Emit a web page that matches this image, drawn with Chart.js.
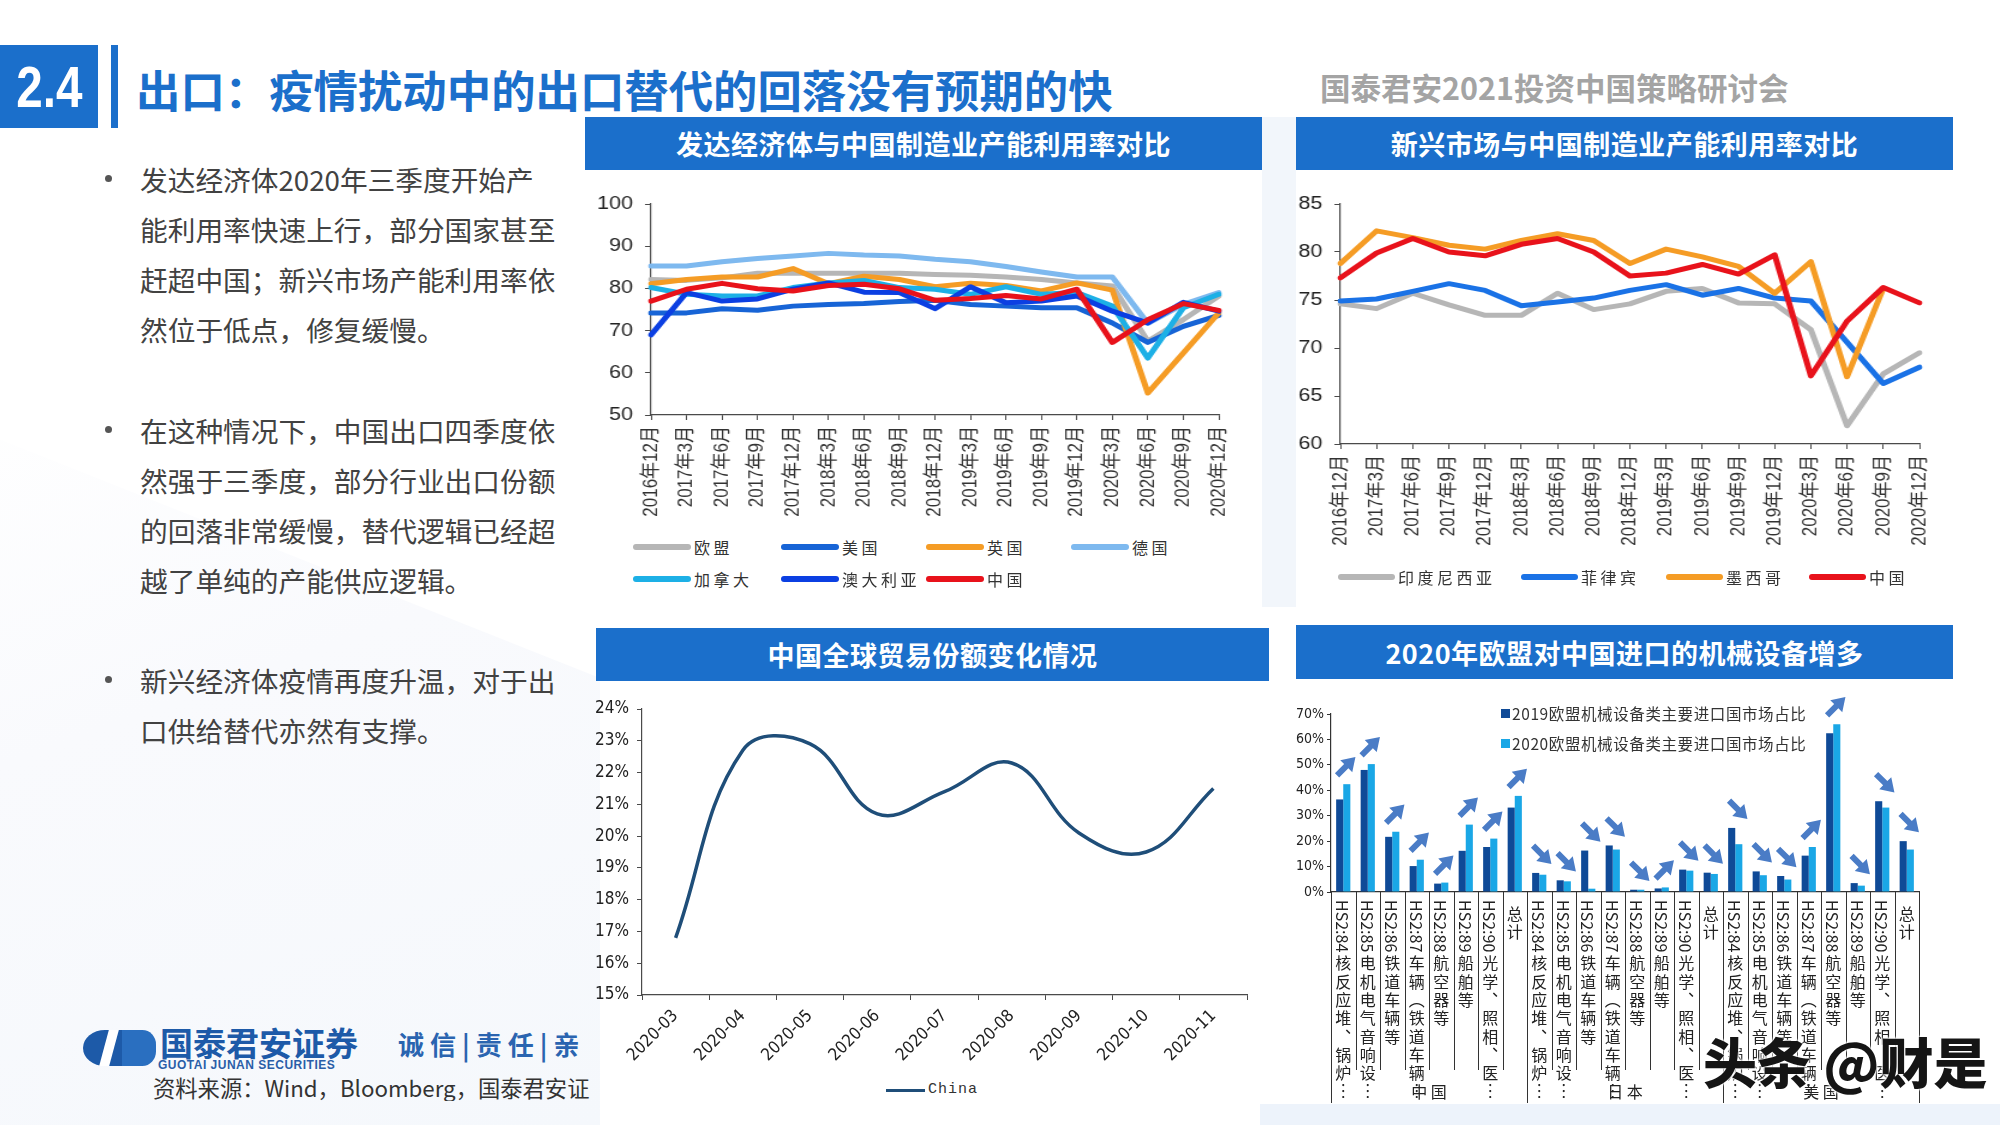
<!DOCTYPE html>
<html lang="zh-CN">
<head>
<meta charset="utf-8">
<title>出口：疫情扰动中的出口替代的回落没有预期的快</title>
<script src="https://cdn.jsdelivr.net/npm/chart.js@4.4.1/dist/chart.umd.min.js"></script>
<style>
html,body{margin:0;padding:0}
body{width:2000px;height:1125px;overflow:hidden;position:relative;background:#fff;font-family:"Noto Sans CJK SC","Noto Sans",sans-serif;color:#333}
.a{position:absolute}
.hdr{position:absolute;background:#1b6fcb;color:#fff;font-weight:700;font-size:27px;display:flex;align-items:center;justify-content:center;letter-spacing:0.5px}
.bul{position:absolute;left:140px;font-size:27.7px;line-height:50px;color:#424242;white-space:nowrap}
.dot{position:absolute;left:105px;width:7px;height:7px;border-radius:50%;background:#555}
.lg{position:absolute;display:flex;align-items:center;font-size:16px;color:#333;letter-spacing:3.5px;white-space:nowrap;line-height:20px}
.sw{display:inline-block;height:6px;border-radius:3px;margin-right:3px}
canvas{position:absolute}
</style>
</head>
<body>
<!-- pale background shapes -->
<div class="a" style="left:0;top:380px;width:600px;height:745px;background:linear-gradient(160deg,#ffffff 0%,#f9fafd 40%,#f5f8fc 100%);clip-path:polygon(0 8%,100% 40%,100% 100%,0 100%)"></div>
<div class="a" style="left:1260px;top:1104px;width:740px;height:21px;background:#edf3fb"></div>
<div class="a" style="left:1262px;top:117px;width:34px;height:490px;background:#f2f6fb"></div>

<!-- title -->
<div class="a" style="left:0;top:45px;width:98px;height:83px;background:#1b6fcb;color:#fff;font-family:'Liberation Sans',sans-serif;font-weight:700;font-size:58px;line-height:83px;text-align:center"><span style="display:inline-block;transform:scaleX(0.82)">2.4</span></div>
<div class="a" style="left:111px;top:45px;width:7px;height:83px;background:#1b6fcb"></div>
<div class="a" style="left:136px;top:62px;font-size:44.4px;line-height:54px;font-weight:700;color:#1b6fcb;white-space:nowrap">出口：疫情扰动中的出口替代的回落没有预期的快</div>
<div class="a" style="left:1320px;top:68px;font-size:30.5px;line-height:38px;font-weight:700;color:#a4a4a4;white-space:nowrap">国泰君安2021投资中国策略研讨会</div>

<!-- bullets -->
<div class="dot" style="top:175px"></div>
<div class="bul" style="top:154px">发达经济体2020年三季度开始产<br>能利用率快速上行，部分国家甚至<br>赶超中国；新兴市场产能利用率依<br>然位于低点，修复缓慢。</div>
<div class="dot" style="top:426px"></div>
<div class="bul" style="top:405px">在这种情况下，中国出口四季度依<br>然强于三季度，部分行业出口份额<br>的回落非常缓慢，替代逻辑已经超<br>越了单纯的产能供应逻辑。</div>
<div class="dot" style="top:676px"></div>
<div class="bul" style="top:655px">新兴经济体疫情再度升温，对于出<br>口供给替代亦然有支撑。</div>

<!-- logo & source -->
<div class="a" style="left:83px;top:1030px;width:44px;height:36px;border-radius:50% 0 0 50%;background:#1d5aa8"></div>
<div class="a" style="left:104px;top:1030px;width:10px;height:36px;background:#fff;transform:skewX(-15deg)"></div>
<div class="a" style="left:122px;top:1030px;width:34px;height:36px;border-radius:0 40% 40% 0;background:#2a6fc0"></div>
<div class="a" style="left:160px;top:1022px;font-size:33px;line-height:40px;font-weight:700;color:#1d5aa8;white-space:nowrap">国泰君安证券</div>
<div class="a" style="left:158px;top:1058px;font-size:12px;line-height:14px;font-weight:700;color:#2a5ea8;letter-spacing:0.5px;font-family:'Liberation Sans',sans-serif;white-space:nowrap">GUOTAI JUNAN SECURITIES</div>
<div class="a" style="left:398px;top:1028px;font-size:26px;line-height:32px;font-weight:700;color:#2a64b0;white-space:nowrap;letter-spacing:6px">诚信|责任|亲</div>
<div class="a" style="left:153px;top:1073px;width:438px;overflow:hidden;font-size:22.3px;line-height:28px;color:#333;white-space:nowrap">资料来源：Wind，Bloomberg，国泰君安证</div>

<!-- chart headers -->
<div class="hdr" style="left:585px;top:117px;width:677px;height:53px">发达经济体与中国制造业产能利用率对比</div>
<div class="hdr" style="left:1296px;top:117px;width:657px;height:53px">新兴市场与中国制造业产能利用率对比</div>
<div class="hdr" style="left:596px;top:628px;width:673px;height:53px">中国全球贸易份额变化情况</div>
<div class="hdr" style="left:1296px;top:625px;width:657px;height:54px">2020年欧盟对中国进口的机械设备增多</div>

<!-- charts 1 and 2 are horizontally stretched pictures in the original slide -->
<canvas id="c1" width="564" height="360" style="left:585px;top:175px;width:677px;height:360px"></canvas>
<canvas id="c2" width="548" height="395" style="left:1296px;top:175px;width:657px;height:395px"></canvas>
<canvas id="c3" width="673" height="395" style="left:596px;top:685px;width:673px;height:395px"></canvas>
<canvas id="c4" width="663" height="425" style="left:1290px;top:685px;width:663px;height:425px"></canvas>

<div id="lg1"></div>
<div id="lg2"></div>
<div class="lg" style="left:886px;top:1080px;font-family:'Liberation Mono','DejaVu Sans Mono',monospace;font-size:15px;letter-spacing:1px"><span class="sw" style="width:39px;height:3px;border-radius:0;background:#1f4e79;margin-right:3px"></span>China</div>
<div class="lg" style="left:1501px;top:703px;font-size:15.5px;letter-spacing:0.6px"><span style="display:inline-block;width:9px;height:9px;background:#0f4a97;margin-right:2px"></span>2019欧盟机械设备类主要进口国市场占比</div>
<div class="lg" style="left:1501px;top:733px;font-size:15.5px;letter-spacing:0.6px"><span style="display:inline-block;width:9px;height:9px;background:#1aa7e6;margin-right:2px"></span>2020欧盟机械设备类主要进口国市场占比</div>

<!-- watermark -->
<div class="a" style="left:1703px;top:1030px;font-size:54px;line-height:62px;font-weight:900;color:#151515;white-space:nowrap;text-shadow:0 0 3px #fff,0 0 3px #fff,0 0 3px #fff">头条 @财是</div>

<script>
// ---------------- DATA ----------------
const quarterLabels = ['2016年12月','2017年3月','2017年6月','2017年9月','2017年12月','2018年3月','2018年6月','2018年9月','2018年12月','2019年3月','2019年6月','2019年9月','2019年12月','2020年3月','2020年6月','2020年9月','2020年12月'];

const devEU = [82.1,81.9,82.5,83.6,83.6,83.6,83.6,83.6,83.3,83.1,82.7,82.1,81.3,80.6,67.5,72.6,78.2];
const devUS = [74.2,74.2,75.2,74.8,75.8,76.2,76.4,76.9,77.2,76.2,75.8,75.4,75.4,71.8,67.2,71.0,73.6];
const devUK = [81.1,82.1,82.7,82.7,84.7,81.1,82.9,82.1,80.4,81.2,80.7,79.4,81.3,79.6,55.2,64.7,74.2];
const devDE = [85.3,85.3,86.3,87.1,87.7,88.3,87.9,87.7,86.9,86.3,85.2,83.9,82.7,82.7,71.7,76.2,79.0];
const devCA = [80.2,78.6,78.2,78.2,80.2,81.3,81.9,80.2,79.8,78.6,80.4,78.6,79.0,75.8,63.5,75.4,78.6];
const devAU = [69.0,79.0,77.0,77.5,79.8,81.3,79.1,79.0,75.2,80.4,76.6,77.0,78.2,74.6,71.8,76.7,74.6];
const devCN = [77.0,79.8,81.2,79.9,79.4,80.7,81.0,79.9,77.2,77.6,78.3,77.5,79.8,67.2,72.6,76.4,74.8];

const emIndonesia   = [74.6,74.1,75.7,74.5,73.4,73.4,75.7,74.0,74.6,75.9,76.2,74.7,74.6,71.9,61.9,67.3,69.5];
const emPhilippines = [74.9,75.1,75.9,76.7,76.0,74.4,74.8,75.2,76.0,76.6,75.5,76.2,75.2,74.9,70.6,66.3,68.0];
const emMexico      = [78.8,82.2,81.5,80.7,80.3,81.2,81.9,81.2,78.8,80.3,79.5,78.5,75.7,79.0,67.0,76.2,null];
const emChina       = [77.3,79.9,81.4,80.0,79.6,80.8,81.4,80.0,77.5,77.8,78.7,77.7,79.7,67.1,72.8,76.3,74.7];

const shareMonths = ['2020-03','2020-04','2020-05','2020-06','2020-07','2020-08','2020-09','2020-10','2020-11'];
const shareChina  = [16.8,22.7,22.9,20.7,21.4,22.3,20.1,19.5,21.5];

const machItems = ['HS2:84核反应堆、锅炉…','HS2:85电机电气音响设…','HS2:86铁道车辆等','HS2:87车辆（铁道车辆…','HS2:88航空器等','HS2:89船舶等','HS2:90光学、照相、医…','总计'];
const machGroups = ['中国','日本','美国'];
const machCategories = machGroups.flatMap(() => machItems);
const mach2019 = [36.4,48.0,21.7,10.2,3.3,16.2,17.7,33.2, 7.5,4.6,16.3,18.3,0.9,1.4,8.8,7.6, 25.2,8.1,6.3,14.3,62.4,3.5,35.7,20.0];
const mach2020 = [42.4,50.3,23.7,12.7,3.7,26.5,21.0,37.8, 6.8,4.2,1.3,16.7,0.9,1.8,8.4,7.1, 18.8,6.6,4.9,17.7,66.0,2.5,33.2,16.7];

// ---------------- HELPERS ----------------
const AXIS = '#4a4a4a';
const LAT = '"Liberation Sans","Noto Sans CJK SC",sans-serif';
function lineDs(label, data, color, order){
  return {label, data, borderColor:color, backgroundColor:color, borderWidth:5, pointRadius:0, tension:0, order, borderJoinStyle:'round', borderCapStyle:'round'};
}
function makeLegend(id, datasets, cols, rowTops, swW){
  const host = document.getElementById(id);
  datasets.forEach((d,i)=>{
    const el = document.createElement('div');
    el.className='lg';
    el.style.left = cols[i % cols.length]+'px';
    el.style.top = rowTops[Math.floor(i/cols.length)]+'px';
    el.innerHTML = '<span class="sw" style="width:'+swW+'px;background:'+d.borderColor+'"></span>'+d.label;
    host.appendChild(el);
  });
}
function baseLineOptions(yMin,yMax,yStep,yW,xH,pad){
  return {
    responsive:false, animation:false, devicePixelRatio:1,
    layout:{padding:pad},
    plugins:{legend:{display:false}, tooltip:{enabled:false}},
    scales:{
      x:{offset:false, grid:{drawOnChartArea:false,color:AXIS,tickLength:5}, border:{color:AXIS,width:1.2},
         ticks:{autoSkip:false,minRotation:90,maxRotation:90,font:{size:17,family:LAT},color:'#333',padding:6},
         afterFit(s){s.height=xH;}},
      y:{min:yMin,max:yMax, grid:{drawOnChartArea:false,color:AXIS,tickLength:5}, border:{color:AXIS,width:1.2},
         ticks:{stepSize:yStep,font:{size:18,family:LAT},color:'#222',padding:10},
         afterFit(s){s.width=yW;}}
    }
  };
}

// ---------------- CHART 1 ----------------
const ds1 = [
  lineDs('欧盟',devEU,'#b6b6b6',6),
  lineDs('美国',devUS,'#1764d6',5),
  lineDs('英国',devUK,'#f59c25',4),
  lineDs('德国',devDE,'#7eb9ef',3),
  lineDs('加拿大',devCA,'#1db0e6',2),
  lineDs('澳大利亚',devAU,'#0b3fe2',1),
  lineDs('中国',devCN,'#e8121b',0)
];
new Chart(document.getElementById('c1'), {
  type:'line', data:{labels:quarterLabels, datasets:ds1},
  options: baseLineOptions(50,100,10,55,120,{top:29,right:36,left:0,bottom:0})
});
makeLegend('lg1', ds1, [633,781,926,1071], [537,569], 58);

// ---------------- CHART 2 ----------------
const ds2 = [
  lineDs('印度尼西亚',emIndonesia,'#b6b6b6',3),
  lineDs('菲律宾',emPhilippines,'#1a72e6',2),
  lineDs('墨西哥',emMexico,'#f59c25',1),
  lineDs('中国',emChina,'#e8121b',0)
];
new Chart(document.getElementById('c2'), {
  type:'line', data:{labels:quarterLabels, datasets:ds2},
  options: baseLineOptions(60,85,5,37,126,{top:29,right:28,left:0,bottom:0})
});
makeLegend('lg2', ds2, [1338,1521,1666,1809], [567], 57);

// ---------------- CHART 3 ----------------
const NARROW = '"Liberation Sans Narrow","DejaVu Sans Condensed","Liberation Sans",sans-serif';
new Chart(document.getElementById('c3'), {
  type:'line',
  data:{labels:shareMonths, datasets:[{label:'China', data:shareChina, borderColor:'#1f4e79', backgroundColor:'#1f4e79', borderWidth:3.5, pointRadius:0, tension:0.4}]},
  options:{
    responsive:false, animation:false, devicePixelRatio:1,
    layout:{padding:{top:24,right:22,left:0,bottom:0}},
    plugins:{legend:{display:false}, tooltip:{enabled:false}},
    scales:{
      x:{offset:true, grid:{offset:true,drawOnChartArea:false,color:AXIS,tickLength:5}, border:{color:AXIS,width:1.2},
         ticks:{autoSkip:false,minRotation:45,maxRotation:45,font:{size:17,family:NARROW},color:'#222',padding:6},
         afterFit(s){s.height=85;}},
      y:{min:15,max:24, grid:{drawOnChartArea:false,color:AXIS,tickLength:5}, border:{color:AXIS,width:1.2},
         ticks:{stepSize:1,font:{size:17,family:NARROW},color:'#222',padding:8,callback:v=>v+'%'},
         afterFit(s){s.width=46;}}
    }
  }
});

// ---------------- CHART 4 ----------------
const VERT_MAP = {'、':'︑','（':'︵','）':'︶','…':'︙','，':'︐'};
function drawVerticalLabel(ctx, text, cx, top, step){
  let y = top, run = '';
  const flush = () => {
    if (!run) return;
    const w = ctx.measureText(run).width;
    ctx.save(); ctx.translate(cx, y); ctx.rotate(Math.PI/2);
    ctx.textAlign='left'; ctx.textBaseline='middle'; ctx.fillText(run, 0, 1);
    ctx.restore(); y += w + 3; run = '';
  };
  for (const ch of text){
    if (ch.charCodeAt(0) < 0x2E80 && ch !== '…') run += ch;
    else { flush(); ctx.textAlign='center'; ctx.textBaseline='top'; ctx.fillText(VERT_MAP[ch]||ch, cx, y); y += step; }
  }
  flush();
}
function drawArrow(ctx, cx, cy, up){
  const L=26, hw=3, headL=13, headW=8.5;
  ctx.save(); ctx.translate(cx, cy); ctx.rotate(up ? -Math.PI/4 : Math.PI/4);
  ctx.beginPath();
  ctx.moveTo(-L/2,-hw); ctx.lineTo(L/2-headL,-hw); ctx.lineTo(L/2-headL,-headW);
  ctx.lineTo(L/2,0); ctx.lineTo(L/2-headL,headW); ctx.lineTo(L/2-headL,hw); ctx.lineTo(-L/2,hw);
  ctx.closePath(); ctx.fillStyle='#4a7cc6'; ctx.fill(); ctx.restore();
}
const machPlugin = {
  id:'machDecor',
  afterDatasetsDraw(chart){
    const {ctx, scales:{x,y}} = chart;
    for (let i=0;i<machCategories.length;i++){
      const a = mach2019[i], b = mach2020[i];
      const top = y.getPixelForValue(Math.max(a,b));
      drawArrow(ctx, x.getPixelForValue(i)+3, top-18, b > a);
    }
  },
  afterDraw(chart){
    const {ctx, scales:{x,y}} = chart;
    const axisY = y.getPixelForValue(0);
    const n = machCategories.length;
    const w = x.getPixelForValue(1) - x.getPixelForValue(0);
    ctx.save();
    ctx.strokeStyle='#333'; ctx.lineWidth=1;
    for (let i=0;i<=n;i++){
      const px = Math.round(x.getPixelForValue(Math.min(i,n-1)) + (i<n ? -w/2 : w/2)) + 0.5;
      const isGroup = i % machItems.length === 0;
      ctx.beginPath(); ctx.moveTo(px, axisY); ctx.lineTo(px, axisY + (isGroup ? 211 : 178)); ctx.stroke();
    }
    ctx.fillStyle='#222';
    ctx.font='16px "Noto Sans CJK SC",sans-serif';
    for (let i=0;i<n;i++){
      const t = machCategories[i];
      drawVerticalLabel(ctx, t, x.getPixelForValue(i), axisY + (t.startsWith('HS') ? 8 : 14), 18.3);
    }
    ctx.textAlign='center'; ctx.textBaseline='middle';
    machGroups.forEach((g,gi)=>{
      const cx = (x.getPixelForValue(gi*machItems.length) + x.getPixelForValue(gi*machItems.length+machItems.length-1))/2;
      ctx.fillText(g.split('').join(' '), cx, axisY + 200);
    });
    ctx.restore();
  }
};
new Chart(document.getElementById('c4'), {
  type:'bar',
  data:{labels:machCategories, datasets:[
    {label:'2019欧盟机械设备类主要进口国市场占比', data:mach2019, backgroundColor:'#0f4a97', categoryPercentage:0.58, barPercentage:1.0},
    {label:'2020欧盟机械设备类主要进口国市场占比', data:mach2020, backgroundColor:'#1aa7e6', categoryPercentage:0.58, barPercentage:1.0}
  ]},
  options:{
    responsive:false, animation:false, devicePixelRatio:1,
    layout:{padding:{top:29,right:34,left:0,bottom:0}},
    plugins:{legend:{display:false}, tooltip:{enabled:false}},
    scales:{
      x:{grid:{display:false}, border:{display:true,color:'#333',width:1.2}, ticks:{display:false}, afterFit(s){s.height=218;}},
      y:{min:0,max:70, grid:{drawOnChartArea:false,color:'#333',tickLength:4}, border:{color:'#333',width:1.2},
         ticks:{stepSize:10,font:{size:14,family:NARROW},color:'#222',padding:3,callback:v=>v+'%'},
         afterFit(s){s.width=41;}}
    }
  },
  plugins:[machPlugin]
});
</script>
</body>
</html>
